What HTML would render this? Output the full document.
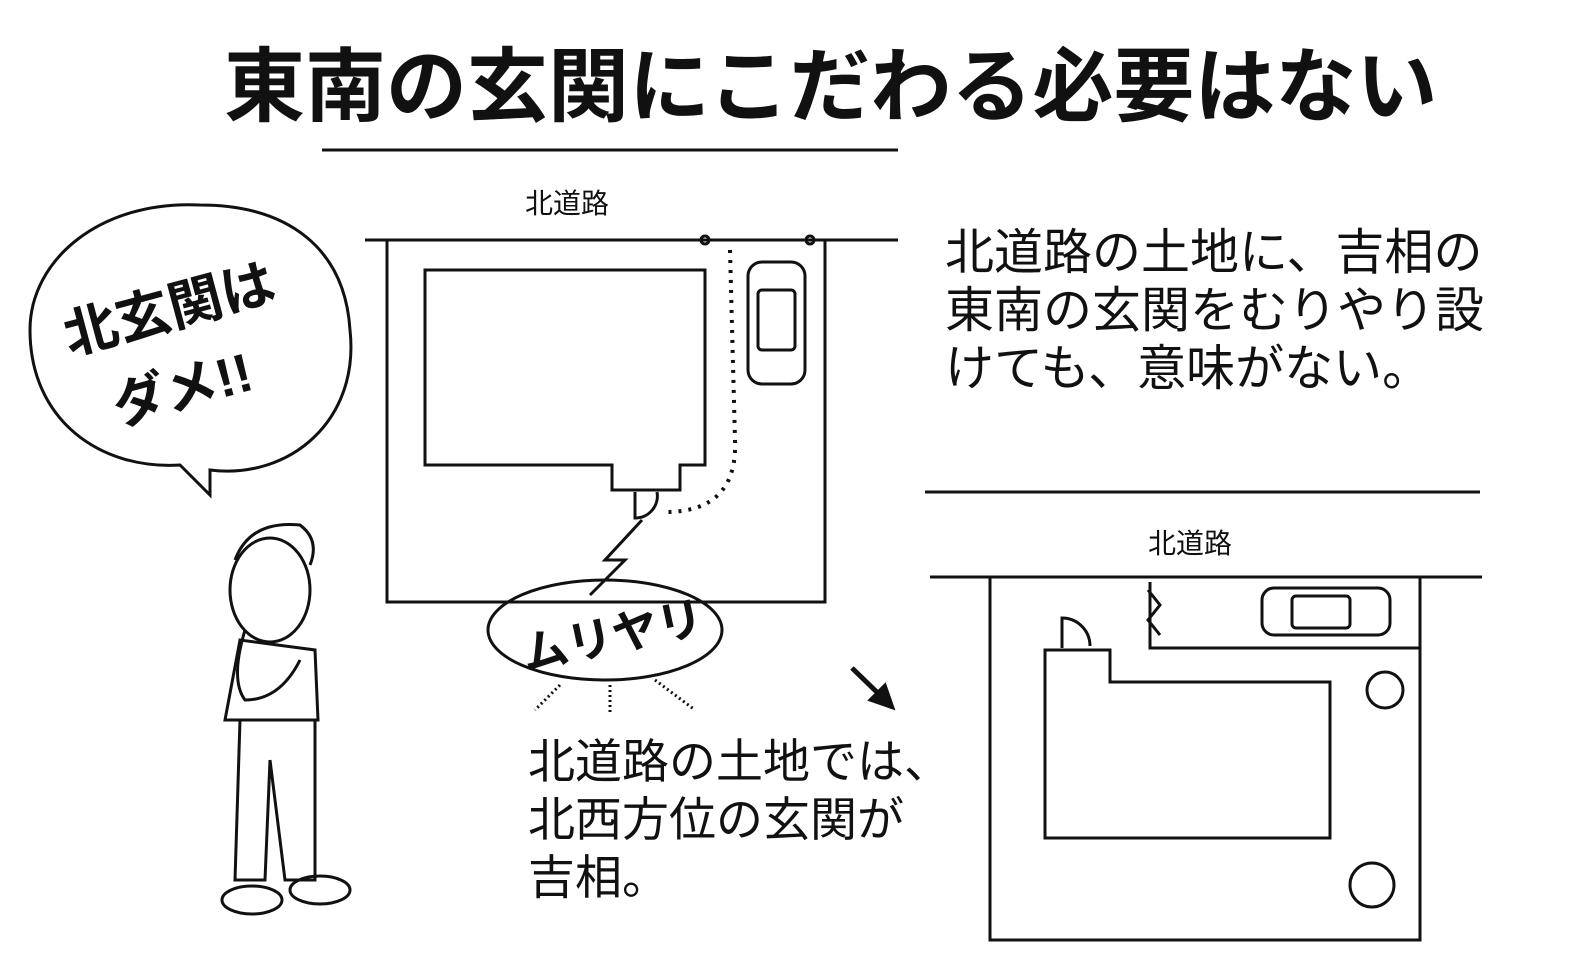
<!DOCTYPE html>
<html><head><meta charset="utf-8"><style>
body{margin:0;width:1588px;height:975px;background:#fff;overflow:hidden;position:relative;font-family:"Liberation Sans","Noto Sans CJK JP",sans-serif;color:#111}
.t{position:absolute;white-space:nowrap}
</style></head><body>
<svg width="1588" height="975" style="position:absolute;left:0;top:0" fill="none" stroke="#111" stroke-width="3">
<line x1="322" y1="150" x2="898" y2="150"/>
<line x1="365" y1="240" x2="898" y2="240"/>
<polyline points="387,240 387,602 825,602 825,240"/>
<polygon points="425,270 705,270 705,465 680,465 680,490 612,490 612,465 425,465"/>
<path d="M635,492 L635,518 A22,22 0 0 0 657,492" />
<rect x="748" y="262" width="57" height="122" rx="14"/>
<rect x="758" y="290" width="37" height="60" rx="4"/>
<circle cx="705" cy="240" r="4"/><circle cx="810" cy="240" r="4"/>
<path d="M730,250 L735,440 Q738,512 665,512" stroke-dasharray="3 7" stroke-width="4"/>
<polyline points="642,520 605,560 625,560 590,595" stroke-width="3"/>
<ellipse cx="605" cy="630" rx="117" ry="50"/>
<line x1="560" y1="685" x2="535" y2="710" stroke-dasharray="2 3"/>
<line x1="610" y1="685" x2="610" y2="712" stroke-dasharray="2 3"/>
<line x1="655" y1="680" x2="695" y2="710" stroke-dasharray="2 3"/>
<line x1="852" y1="668" x2="885" y2="700" stroke-width="5"/>
<polygon points="893,708 870,700 885,685" fill="#111"/>
<line x1="925" y1="492" x2="1480" y2="492"/>
<line x1="930" y1="577" x2="1482" y2="577"/>
<polyline points="990,577 990,940 1420,940 1420,577"/>
<polyline points="1150,582 1150,648 1420,648"/>
<polygon points="1045,650 1110,650 1110,682 1330,682 1330,838 1045,838"/>
<path d="M1062,648 L1062,618 A28,28 0 0 1 1090,646"/>
<rect x="1262" y="588" width="128" height="47" rx="12"/>
<rect x="1292" y="596" width="58" height="32" rx="4"/>
<circle cx="1385" cy="690" r="18"/><circle cx="1372" cy="885" r="22"/>
<polyline points="1148,590 1160,605 1148,620 1160,635"/>
<path d="M210,470 C290,480 360,420 350,330 C345,250 290,205 200,205 C100,200 30,260 30,330 C30,420 100,470 180,465 L210,495 Z"/>
<ellipse cx="270" cy="590" rx="40" ry="52"/>
<path d="M235,560 Q250,520 300,525 Q320,540 310,565"/>
<path d="M240,640 L225,720 L318,720 L315,650 Z"/>
<path d="M245,630 Q230,680 245,700 Q280,700 300,660"/>
<path d="M240,720 L235,880 L265,880 L270,760 L285,880 L315,880 L315,720"/>
<ellipse cx="252" cy="900" rx="30" ry="14"/><ellipse cx="320" cy="890" rx="30" ry="14"/>
</svg>
<div class="t" style="left:224px;top:22px;font-size:81px;font-weight:bold;letter-spacing:0px">東南の玄関にこだわる必要はない</div>
<div class="t" style="left:525px;top:182px;font-size:28px">北道路</div>
<div class="t" style="left:1148px;top:522px;font-size:28px">北道路</div>
<div class="t" style="left:945px;top:224px;font-size:49px;line-height:58px">北道路の土地に、吉相の<br>東南の玄関をむりやり設<br>けても、意味がない。</div>
<div class="t" style="left:528px;top:733px;font-size:47px;line-height:58px">北道路の土地では、<br>北西方位の玄関が<br>吉相。</div>
<div class="t" style="left:60px;top:265px;font-size:54px;font-weight:bold;transform:rotate(-15deg)">北玄関は</div>
<div class="t" style="left:110px;top:345px;font-size:54px;font-weight:bold;transform:rotate(-15deg)">ダメ!!</div>
<div class="t" style="left:520px;top:600px;font-size:46px;font-weight:bold;transform:rotate(-12deg)">ムリヤリ</div>
</body></html>
